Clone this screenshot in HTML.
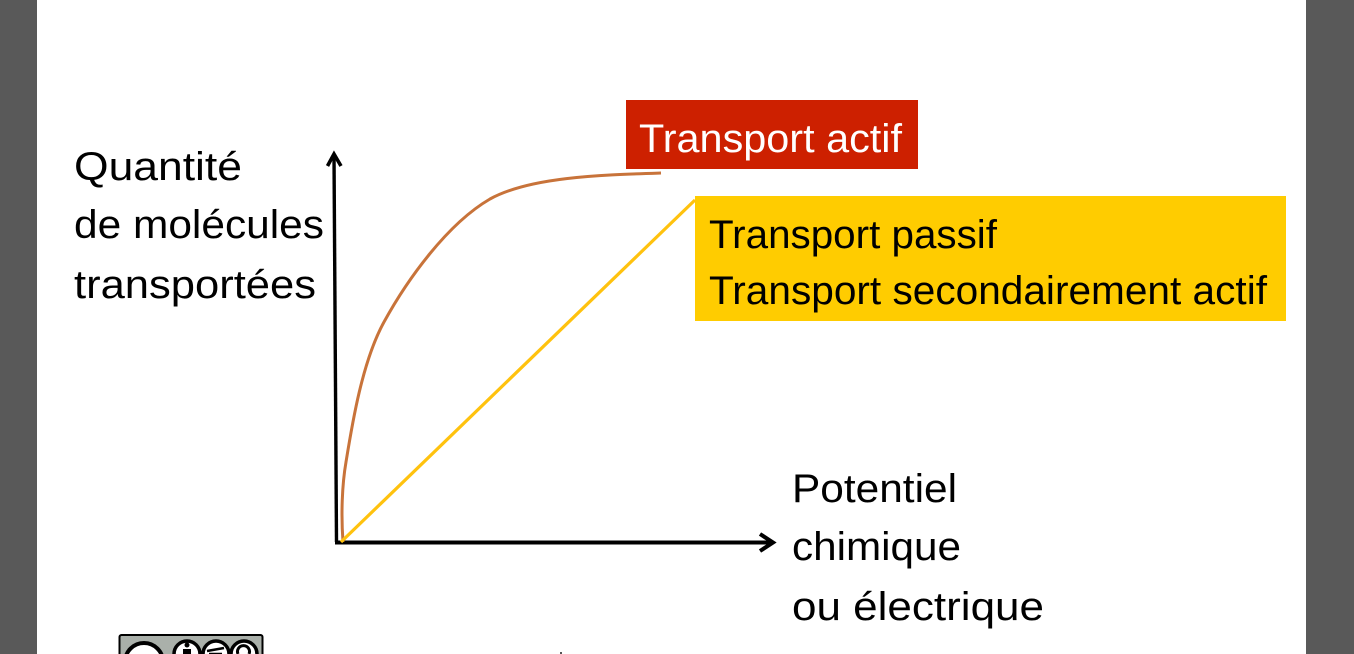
<!DOCTYPE html>
<html>
<head>
<meta charset="utf-8">
<style>
html,body{margin:0;padding:0;width:1354px;height:654px;overflow:hidden;background:#fff}
svg{display:block}
text{font-family:"Liberation Sans",sans-serif;font-size:40px;fill:#000}
</style>
</head>
<body>
<svg width="1354" height="654" viewBox="0 0 1354 654" xmlns="http://www.w3.org/2000/svg">
<rect width="1354" height="654" fill="#fff"/>
<rect x="0" y="0" width="37" height="654" fill="#595959"/>
<rect x="1306" y="0" width="48" height="654" fill="#595959"/>

<rect x="626" y="100" width="292" height="69" fill="#cd2000"/>
<rect x="695" y="196" width="591" height="125" fill="#ffcc00"/>

<!-- axes -->
<path d="M334 155 L336.500 542" stroke="#000" stroke-width="3.400" fill="none"/>
<path d="M327.500 166 L334 154 L341 166" stroke="#000" stroke-width="3.600" fill="none"/>
<path d="M335 542.500 L771 542.500" stroke="#000" stroke-width="4" fill="none"/>
<path d="M760 534 L773 542.500 L760 551" stroke="#000" stroke-width="4" fill="none"/>

<!-- curves -->
<path d="M343 542 C341 515 342 485 346 462 C352 425 362 362 384 322 C407 280 447 224 490 199 C530 177 600 175 661 173" stroke="#c8733a" stroke-width="3" fill="none"/>
<path d="M341 542 L695 200" stroke="#ffc20e" stroke-width="3.200" fill="none"/>

<!-- labels -->
<text x="74" y="180" textLength="168" lengthAdjust="spacingAndGlyphs">Quantité</text>
<text x="74" y="238" textLength="250" lengthAdjust="spacingAndGlyphs">de molécules</text>
<text x="74" y="298" textLength="242" lengthAdjust="spacingAndGlyphs">transportées</text>

<text x="792" y="502" textLength="165" lengthAdjust="spacingAndGlyphs">Potentiel</text>
<text x="792" y="560" textLength="169" lengthAdjust="spacingAndGlyphs">chimique</text>
<text x="792" y="620" textLength="252" lengthAdjust="spacingAndGlyphs">ou électrique</text>

<text x="639" y="152" textLength="263" lengthAdjust="spacingAndGlyphs" style="fill:#fff">Transport actif</text>
<text x="709" y="248" textLength="288" lengthAdjust="spacingAndGlyphs">Transport passif</text>
<text x="709" y="304" textLength="558" lengthAdjust="spacingAndGlyphs">Transport secondairement actif</text>

<!-- CC badge, cut off at the bottom of the frame -->
<rect x="119.500" y="635" width="143" height="30" rx="2" fill="#aab0aa" stroke="#000" stroke-width="2"/>
<circle cx="144" cy="662" r="19" fill="#fff" stroke="#000" stroke-width="4"/>
<circle cx="187" cy="654" r="13" fill="#fff" stroke="#000" stroke-width="3.500"/>
<circle cx="187" cy="645" r="2.500" fill="#000"/>
<rect x="183" y="649" width="8" height="6" fill="#000"/>
<circle cx="216" cy="654" r="13" fill="#fff" stroke="#000" stroke-width="3.500"/>
<path d="M207 651 L224 648 M209 654 L222 654" stroke="#000" stroke-width="2.500"/>
<circle cx="244" cy="654" r="13" fill="#fff" stroke="#000" stroke-width="3.500"/>
<path d="M238 654 A6 6 0 1 1 249 654" stroke="#000" stroke-width="3" fill="none"/>
<rect x="560" y="652" width="2" height="2" fill="#555"/>
</svg>
</body>
</html>
